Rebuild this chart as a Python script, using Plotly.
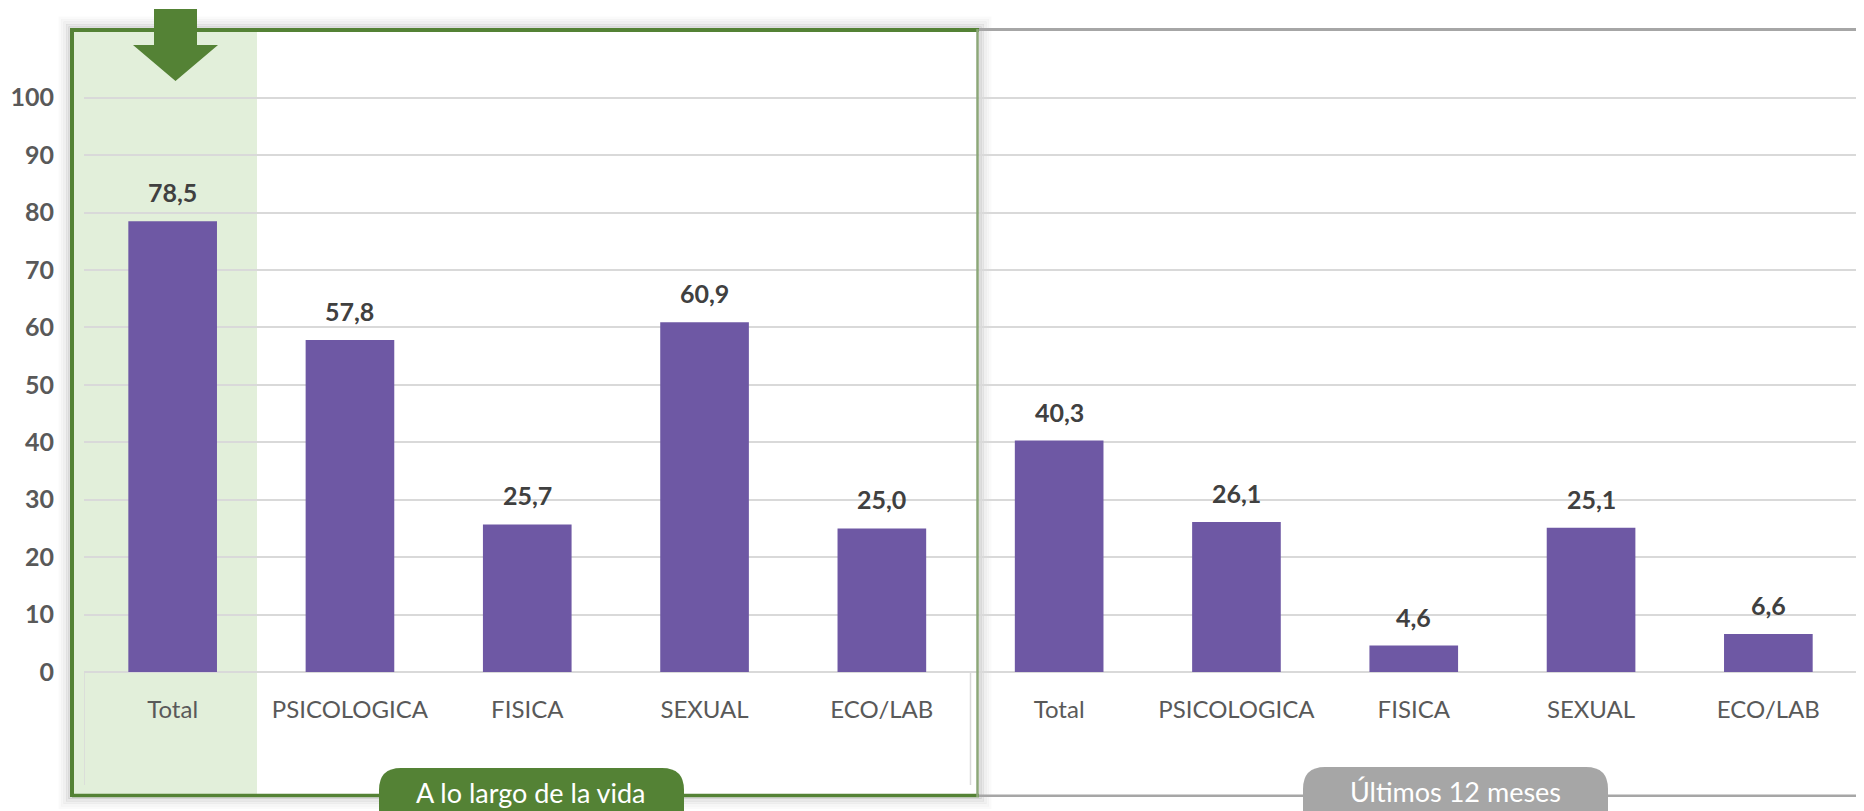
import plotly.graph_objects as go

# ---- data ----
categories = ["Total", "PSICOLOGICA", "FISICA", "SEXUAL", "ECO/LAB",
              "Total", "PSICOLOGICA", "FISICA", "SEXUAL", "ECO/LAB"]
values = [78.5, 57.8, 25.7, 60.9, 25.0, 40.3, 26.1, 4.6, 25.1, 6.6]
group_labels = ["A lo largo de la vida", "Últimos 12 meses"]
y_ticks = [0, 10, 20, 30, 40, 50, 60, 70, 80, 90, 100]

# ---- geometry helpers (page pixel -> paper) ----
OFF = 8  # default page body margin
W, H = 1864 - OFF, 811 - OFF
L, R, T, B = 84 - OFF, 7, 69 - OFF, 139
PW, PH = W - L - R, H - T - B


def px(x):
    return (x - OFF - L) / PW


def py(y):
    return (H - B - (y - OFF)) / PH


FONT = "Lato"
GREEN = "#548235"
GRAY = "#A6A6A6"
BAR = "#6E58A4"

x_pos = list(range(len(categories)))

fig = go.Figure()
fig.add_trace(go.Bar(
    x=x_pos, y=values,
    marker=dict(color=BAR, line=dict(width=0)),
    hoverinfo="skip",
))

shapes = []
# soft shadow around green frame
for i, a in enumerate([0.13, 0.09, 0.06, 0.035, 0.018]):
    o = 2 + i * 2.5
    shapes.append(dict(type="rect", xref="paper", yref="paper", layer="below",
                       x0=px(72 - o), x1=px(978 + o), y0=py(795.5 + o), y1=py(30 - o),
                       line=dict(color=f"rgba(0,0,0,{a})", width=3)))
# green shade behind first category
shapes.append(dict(type="rect", xref="paper", yref="paper", layer="below",
                   x0=px(74), x1=px(257), y0=py(794), y1=py(31),
                   fillcolor="#E2EFDA", line=dict(width=0)))
# vertical dividers of category axis
for xv in [-0.5, 4.5, 9.5]:
    shapes.append(dict(type="line", xref="x", yref="paper", layer="below",
                       x0=xv, x1=xv, y0=0, y1=py(785),
                       line=dict(color="#D9D9D9", width=1.5)))
# gray frame (right group)
shapes.append(dict(type="line", xref="paper", yref="paper",
                   x0=px(979), x1=px(1870), y0=py(29.5), y1=py(29.5),
                   line=dict(color=GRAY, width=3)))
shapes.append(dict(type="line", xref="paper", yref="paper",
                   x0=px(979), x1=px(1870), y0=py(795.7), y1=py(795.7),
                   line=dict(color=GRAY, width=2.5)))
# green frame (left group)
shapes.append(dict(type="line", xref="paper", yref="paper",
                   x0=px(72), x1=px(979), y0=py(30), y1=py(30),
                   line=dict(color=GREEN, width=4)))
shapes.append(dict(type="line", xref="paper", yref="paper",
                   x0=px(72), x1=px(979), y0=py(795.5), y1=py(795.5),
                   line=dict(color=GREEN, width=3.5)))
shapes.append(dict(type="line", xref="paper", yref="paper",
                   x0=px(72), x1=px(72), y0=py(28), y1=py(797),
                   line=dict(color=GREEN, width=4)))
shapes.append(dict(type="line", xref="paper", yref="paper",
                   x0=px(977.5), x1=px(977.5), y0=py(29), y1=py(797),
                   line=dict(color="#8CA779", width=2.5)))


def pill(x0, x1, y0, y1, r, color):
    p = (f"M {px(x0)},{py(y1)} L {px(x0)},{py(y0 + r)} "
         f"Q {px(x0)},{py(y0)} {px(x0 + r)},{py(y0)} "
         f"L {px(x1 - r)},{py(y0)} "
         f"Q {px(x1)},{py(y0)} {px(x1)},{py(y0 + r)} "
         f"L {px(x1)},{py(y1)} Z")
    return dict(type="path", xref="paper", yref="paper", path=p,
                fillcolor=color, line=dict(width=0))


shapes.append(pill(379, 684, 768, 830, 22, GREEN))
shapes.append(pill(1303, 1608, 767, 830, 22, GRAY))

# arrow
arrow = (f"M {px(154)},{py(9)} L {px(197)},{py(9)} L {px(197)},{py(45)} "
         f"L {px(218)},{py(45)} L {px(175.5)},{py(81)} L {px(133)},{py(45)} "
         f"L {px(154)},{py(45)} Z")
shapes.append(dict(type="path", xref="paper", yref="paper", path=arrow,
                   fillcolor=GREEN, line=dict(width=0)))

annotations = []
for xi, v in zip(x_pos, values):
    annotations.append(dict(
        x=xi, y=v, xref="x", yref="y", yshift=29, yanchor="middle",
        text=f"{v:.1f}".replace(".", ","), showarrow=False,
        font=dict(family=FONT, size=25, color="#404040", weight="bold")))

for label, cx, cy in zip(group_labels, [531, 1455], [792, 791]):
    annotations.append(dict(
        x=px(cx), y=py(cy), xref="paper", yref="paper",
        xanchor="center", yanchor="middle", text=label, showarrow=False,
        font=dict(family=FONT, size=27, color="white")))

fig.update_layout(
    width=W, height=H,
    margin=dict(l=L, r=R, t=T, b=B, pad=0),
    paper_bgcolor="white", plot_bgcolor="rgba(0,0,0,0)",
    bargap=0.5, showlegend=False,
    shapes=shapes, annotations=annotations,
    xaxis=dict(range=[-0.5, 9.5], tickvals=x_pos, ticktext=categories,
               showgrid=False, zeroline=False, showline=False, automargin=False,
               ticks="", ticklabelstandoff=21,
               tickfont=dict(family=FONT, size=24, color="#595959")),
    yaxis=dict(range=[0, 105], tickvals=y_ticks, automargin=False,
               showgrid=True, gridcolor="#D9D9D9", gridwidth=1.5,
               zeroline=True, zerolinecolor="#D9D9D9", zerolinewidth=1.5,
               showline=False, ticks="", ticklabelstandoff=29,
               tickfont=dict(family=FONT, size=25, color="#595959", weight="bold")),
)

fig.write_html("out.html")
